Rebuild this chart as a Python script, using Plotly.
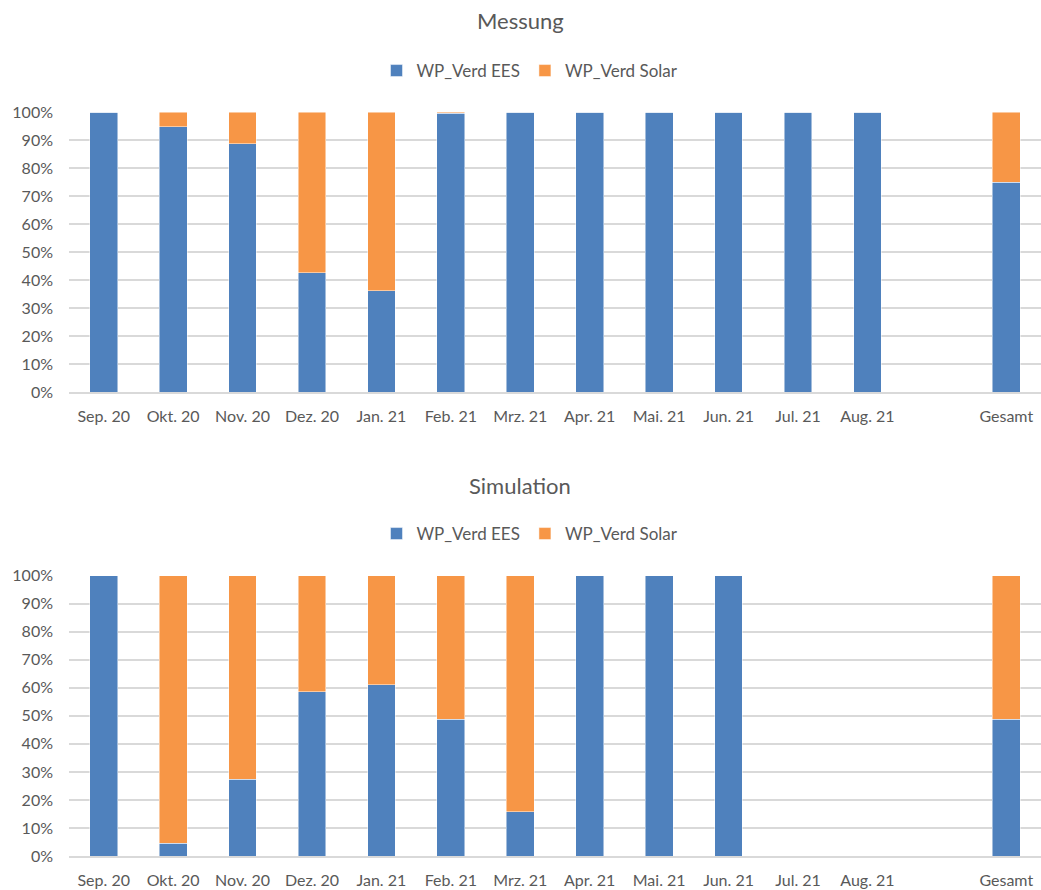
import plotly.graph_objects as go

# Monthly share of heat-pump compressor energy by source (EES vs. Solar)
months = ["Sep. 20", "Okt. 20", "Nov. 20", "Dez. 20", "Jan. 21", "Feb. 21",
          "Mrz. 21", "Apr. 21", "Mai. 21", "Jun. 21", "Jul. 21", "Aug. 21",
          " ", "Gesamt"]

mess_ees = [1.0, 0.948, 0.887, 0.426, 0.361, 0.995, 1.0, 1.0, 1.0, 1.0, 1.0, 1.0, None, 0.749]
mess_solar = [0.0, 0.052, 0.113, 0.574, 0.639, 0.005, 0.0, 0.0, 0.0, 0.0, 0.0, 0.0, None, 0.251]

sim_ees = [1.0, 0.046, 0.274, 0.586, 0.611, 0.488, 0.158, 1.0, 1.0, 1.0, None, None, None, 0.488]
sim_solar = [0.0, 0.954, 0.726, 0.414, 0.389, 0.512, 0.842, 0.0, 0.0, 0.0, None, None, None, 0.512]

series_names = ["WP_Verd EES", "WP_Verd Solar"]
colors = ["#4F81BD", "#F79646"]

FONT = "Lato, 'Open Sans', sans-serif"
TXT = "#595959"
GRID = "#D9D9D9"
W, H = 1041, 890
LEFT = 69


def ypos(px):
    return 1 - px / H


fig = go.Figure()

panels = [
    ("x", "y", "legend", [mess_ees, mess_solar]),
    ("x2", "y2", "legend2", [sim_ees, sim_solar]),
]
for xax, yax, leg, vals in panels:
    for name, col, v in zip(series_names, colors, vals):
        fig.add_trace(go.Bar(
            x=months, y=v, name=name, xaxis=xax, yaxis=yax, legend=leg,
            marker=dict(color=col, line=dict(color="rgba(255,255,255,0.6)", width=0.8)),
        ))

axis_common = dict(
    range=[0, 1], tickformat=".0%", dtick=0.1,
    showgrid=True, gridcolor=GRID, gridwidth=1.5,
    zeroline=False, showline=False, ticks="", automargin=False,
    tickfont=dict(family=FONT, size=16, color=TXT),
    ticklabelstandoff=15, fixedrange=True,
)
xaxis_common = dict(
    type="category", categoryorder="array", categoryarray=months,
    showgrid=False, zeroline=False, showline=True, linecolor=GRID, linewidth=1.5,
    ticks="", automargin=False, tickfont=dict(family=FONT, size=16, color=TXT),
    ticklabelstandoff=9, domain=[0, 1],
)

legend_common = dict(
    orientation="h", x=530 / W, xanchor="center", xref="container",
    yanchor="middle", yref="paper",
    font=dict(family=FONT, size=17, color=TXT),
    itemwidth=30, traceorder="normal", bgcolor="rgba(0,0,0,0)",
)

fig.update_layout(
    width=W, height=H,
    margin=dict(l=LEFT, r=0, t=0, b=0, autoexpand=False),
    paper_bgcolor="white", plot_bgcolor="white",
    barmode="stack", bargap=0.6,
    font=dict(family=FONT, color=TXT),
    xaxis=dict(**xaxis_common, anchor="y"),
    xaxis2=dict(**xaxis_common, anchor="y2"),
    yaxis=dict(**axis_common, domain=[ypos(392), ypos(112)]),
    yaxis2=dict(**axis_common, domain=[ypos(856), ypos(575.7)]),
    legend=dict(**legend_common, y=ypos(71)),
    legend2=dict(**legend_common, y=ypos(534)),
    showlegend=True,
)

for text, y in [("Messung", 20), ("Simulation", 485)]:
    fig.add_annotation(
        text=text, x=(520 - LEFT) / (W - LEFT), xref="paper", y=ypos(y), yref="paper",
        xanchor="center", yanchor="middle", showarrow=False,
        font=dict(family=FONT, size=22, color=TXT),
    )

fig.write_html("out.html")
